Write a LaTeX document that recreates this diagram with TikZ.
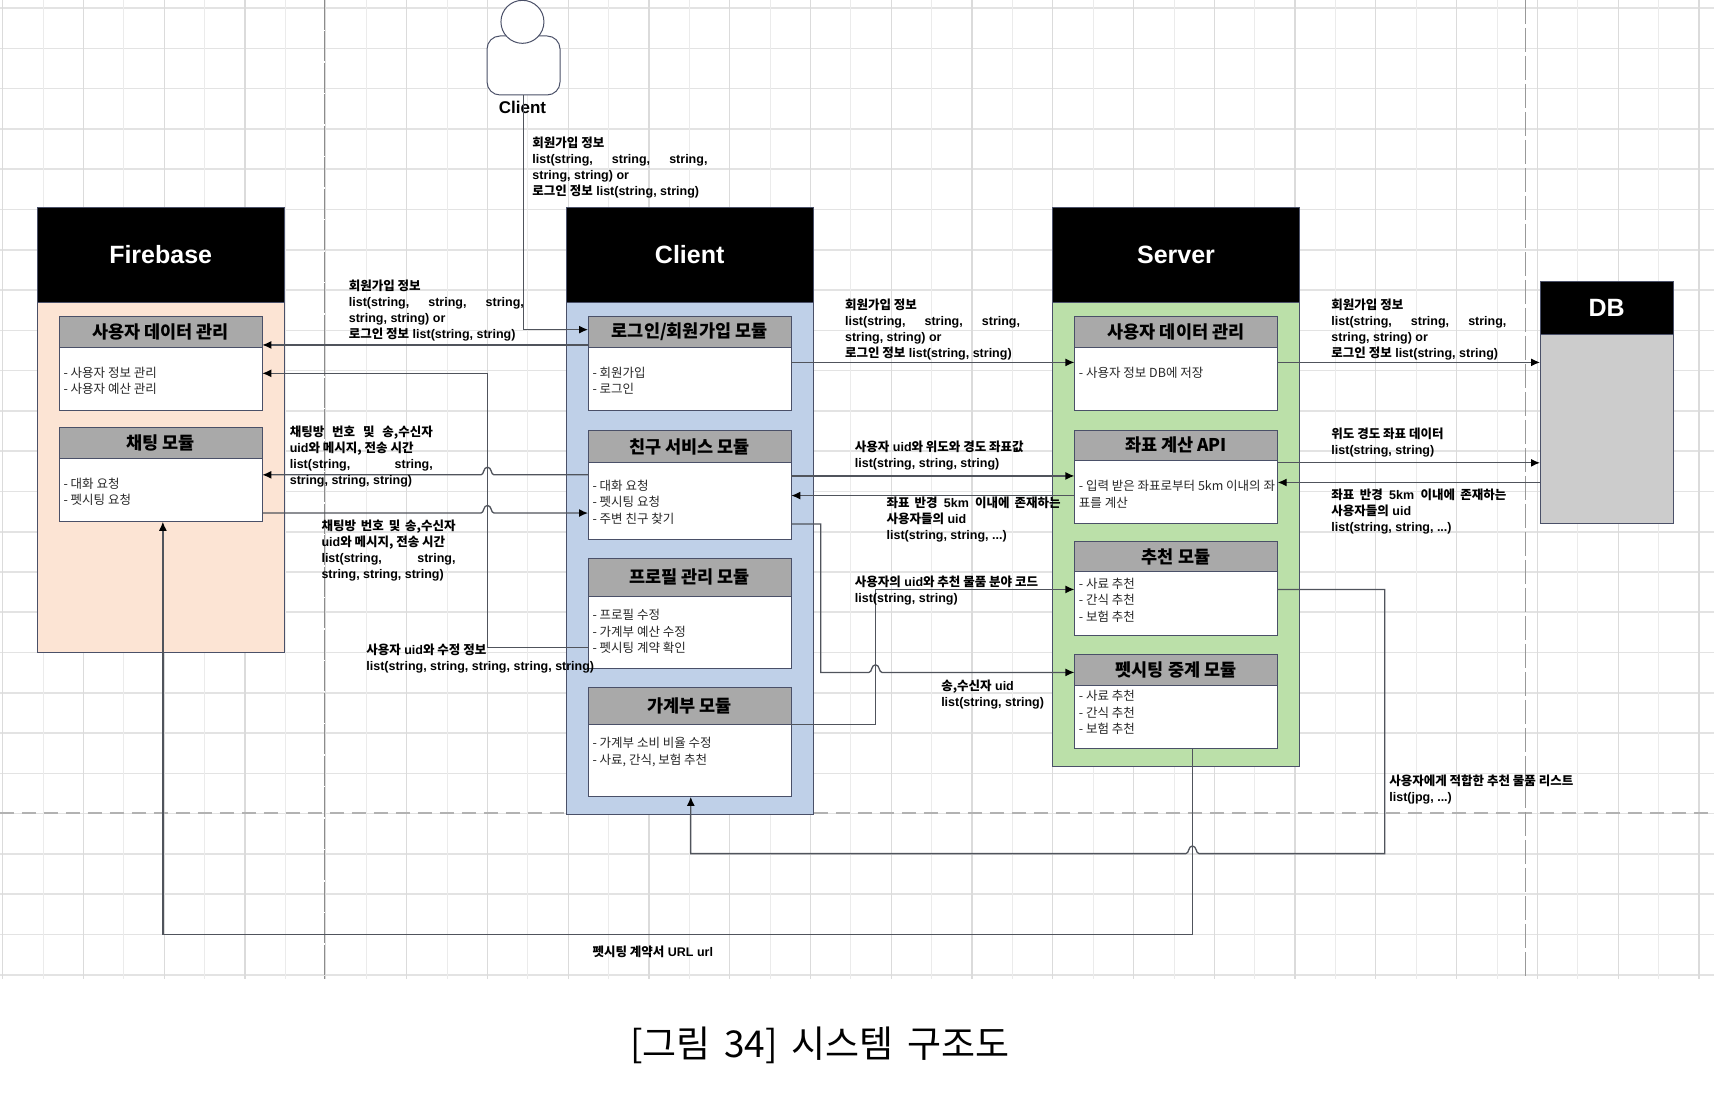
\documentclass[tikz,border=0pt]{standalone}
\usepackage{fontspec}
\setmainfont{Liberation Sans}
\newfontfamily\krfont{Noto Sans CJK KR}
\usetikzlibrary{arrows.meta,calc}
\newcommand\K[1]{{\krfont #1}}
\newcommand\J[2]{\makebox[#1pt][s]{#2}}
\definecolor{edgec}{HTML}{4A5068}
\definecolor{linec}{HTML}{50545C}
\definecolor{titlec}{HTML}{A9A9A9}
\definecolor{peach}{HTML}{FCE4D4}
\definecolor{bluep}{HTML}{BFD0E8}
\definecolor{greenp}{HTML}{BBE0A9}
\definecolor{dbgrey}{HTML}{CCCCCC}
\tikzset{
  pbox/.style={draw=edgec,line width=1pt,inner sep=0pt,outer sep=0pt},
  headbox/.style={pbox,fill=black,text=white,font=\fontsize{25}{28}\selectfont\bfseries},
  titlebox/.style={pbox,fill=titlec,font=\fontsize{17.5}{20}\selectfont\bfseries},
  bodybox/.style={pbox,fill=white},
  bodytxt/.style={anchor=west,align=left,inner sep=0pt,yshift=-0.8pt,text=black!85,font=\fontsize{12.5}{16.5}\selectfont},
  lbl/.style={anchor=north west,align=left,inner sep=0pt,yshift=-1.2pt,text=black,font=\fontsize{12.5}{16}\selectfont\bfseries},
  conn/.style={draw=linec,line width=1.3pt,-{Latex[length=9pt,width=8pt,black]}},
  hopr/.style 2 args={insert path={-- (#1-6,#2) .. controls (#1-3,#2) and (#1-4,#2-7) .. (#1,#2-7) .. controls (#1+4,#2-7) and (#1+3,#2) .. (#1+6,#2)}},
  hopl/.style 2 args={insert path={-- (#1+6,#2) .. controls (#1+3,#2) and (#1+4,#2-7) .. (#1,#2-7) .. controls (#1-4,#2-7) and (#1-3,#2) .. (#1-6,#2)}},
}
% name, x1, y1, x2, y2, style, text
\newcommand\bx[7]{\node[#6,minimum width={(#4-#2)*1.093pt},minimum height={(#5-#3)*1.0916pt}] (#1) at ({(#2+#4)/2},{(#3+#5)/2}) {#7};}
% name, x1, ytop, ymid, ybot, title
\newcommand\md[6]{\bx{#1-b}{#2}{#4}{#2+186}{#5}{bodybox}{}\bx{#1-t}{#2}{#3}{#2+186}{#4}{titlebox}{#6}}
\begin{document}
\begin{tikzpicture}[x=1.093pt,y=-1.0916pt]
\useasboundingbox (0,0) rectangle (1568.2,1004);
\fill[white] (0,0) rectangle (1568.2,1004);
% grid
\foreach \k in {0,...,24} \draw[black!11,line width=1.6pt] (0,{893-36.9*\k}) -- (1568.2,{893-36.9*\k});
\foreach \k in {0,2,...,42} \draw[black!8,line width=0.8pt] ({2.5+36.95*\k+36.95},0) -- ({2.5+36.95*\k+36.95},897);
\foreach \k in {0,2,...,42} \draw[black!14,line width=1.2pt] ({2.5+36.95*\k},0) -- ({2.5+36.95*\k},897);
\draw[black!30,line width=2pt,dash pattern=on 14pt off 8pt] (0,745) -- (1568.2,745);
\draw[black!45,line width=0.8pt,dash pattern=on 30pt off 1.5pt] (297,0) -- (297,897);
\draw[black!40,line width=1pt,dash pattern=on 24pt off 4pt] (1396,0) -- (1396,897);
% panels
\bx{fbp}{34}{277}{260}{598}{pbox,fill=peach}{}
\bx{fbh}{34}{190}{260}{277}{headbox}{Firebase}
\bx{clp}{518}{277}{744}{746}{pbox,fill=bluep}{}
\bx{clh}{518}{190}{744}{277}{headbox}{Client}
\bx{svp}{963}{277}{1189}{702}{pbox,fill=greenp}{}
\bx{svh}{963}{190}{1189}{277}{headbox}{Server}
\bx{dbp}{1409}{306}{1531}{480}{pbox,fill=dbgrey}{}
\bx{dbh}{1409}{258}{1531}{306}{headbox}{DB}
% modules
\md{fu}{54}{290}{318}{376}{\K{사용자 데이터 관리}}
\md{fc}{54}{392}{420}{478}{\K{채팅 모듈}}
\md{lg}{538}{290}{318}{376}{\K{로그인/회원가입 모듈}}
\md{fr}{538}{394}{424}{494}{\K{친구 서비스 모듈}}
\md{pf}{538}{512}{546}{612}{\K{프로필 관리 모듈}}
\md{ld}{538}{630}{664}{730}{\K{가계부 모듈}}
\md{su}{983}{290}{318}{376}{\K{사용자 데이터 관리}}
\md{co}{983}{394}{422}{480}{\K{좌표 계산 API}}
\md{re}{983}{496}{524}{582}{\K{추천 모듈}}
\md{ps}{983}{600}{628}{686}{\K{펫시팅 중계 모듈}}
% module texts
\node[bodytxt] (fu-x) at (58,348) {\K{- 사용자 정보 관리}\\\K{- 사용자 예산 관리}};
\node[bodytxt] (fc-x) at (58,450) {\K{- 대화 요청}\\\K{- 펫시팅 요청}};
\node[bodytxt] (lg-x) at (542,348) {\K{- 회원가입}\\\K{- 로그인}};
\node[bodytxt] (fr-x) at (542,459) {\K{- 대화 요청}\\\K{- 펫시팅 요청}\\\K{- 주변 친구 찾기}};
\node[bodytxt] (pf-x) at (542,578) {\K{- 프로필 수정}\\\K{- 가계부 예산 수정}\\\K{- 펫시팅 계약 확인}};
\node[bodytxt] (ld-x) at (542,688) {\K{- 가계부 소비 비율 수정}\\\K{- 사료, 간식, 보험 추천}};
\node[bodytxt] (su-x) at (987,341) {\K{- 사용자 정보 DB에 저장}};
\node[bodytxt] (co-x) at (987,452) {\K{- 입력 받은 좌표로부터 5km 이내의 좌}\\\K{표를 계산}};
\node[bodytxt] (re-x) at (987,549) {\K{- 사료 추천}\\\K{- 간식 추천}\\\K{- 보험 추천}};
\node[bodytxt] (ps-x) at (987,652) {\K{- 사료 추천}\\\K{- 간식 추천}\\\K{- 보험 추천}};
% actor
\node[draw=edgec,line width=1pt,fill=white,rounded corners=13pt,minimum width=73pt,minimum height=59pt,inner sep=0pt] (actb) at (479,60) {};
\node[draw=edgec,line width=1pt,fill=white,circle,minimum size=43pt,inner sep=0pt] (acth) at (478,20) {};
\node[inner sep=0pt,font=\fontsize{17}{20}\selectfont\bfseries] (actl) at (478,98) {Client};
% connectors
\draw[conn] (actb.south) -- (actb.south |- 0,302) -- (lg-t.west |- 0,302);
\draw[conn] (lg-t.west |- 0,316) -- (fu-t.east |- 0,316);
\draw[conn] (pf-b.west |- 0,593) -| (446,342) -- (fu-b.east |- 0,342);
\draw[conn] (fr-b.west |- 0,435) [hopl={446}{435}] -- (fc-b.east |- 0,435);
\draw[conn] (fc-b.east |- 0,470) [hopr={446}{470}] -- (fr-b.west |- 0,470);
\draw[conn] (ps-b.south -| 1091,0) -- (1091,856) -| (fc-b.south -| 149,0);
\draw[conn] (re-b.east |- 0,540) -| (1267,782) [hopl={1091}{782}] -- (632,782) -- (ld-b.south -| 632,0);
\draw[conn] (lg-b.east |- 0,332) -- (su-b.west |- 0,332);
\draw[conn] (fr-b.east |- 0,436) -- (co-b.west |- 0,436);
\draw[conn] (co-b.west |- 0,454) -- (fr-b.east |- 0,454);
\draw[conn] (fr-b.east |- 0,480) -| (751,616) [hopr={801}{616}] -- (ps-t.west |- 0,616);
\draw[conn] (ld-t.east |- 0,664) -| (801,540) -- (re-b.west |- 0,540);
\draw[conn] (su-b.east |- 0,332) -- (dbp.west |- 0,332);
\draw[conn] (co-b.east |- 0,424) -- (dbp.west |- 0,424);
\draw[conn] (dbp.west |- 0,442) -- (co-b.east |- 0,442);
% labels
\newcommand\signup[1]{\K{회원가입 정보}\\\J{#1}{list(string, string, string,}\\string, string) or\\\K{로그인 정보} list(string, string)}
\node[lbl] (l1) at (487,124) {\signup{175}};
\node[lbl] (l2) at (319,255) {\signup{175}};
\node[lbl] (l3) at (773,273) {\signup{175}};
\node[lbl] (l4) at (1218,273) {\signup{175}};
\node[lbl] (l5) at (265,389) {\J{143}{\K{채팅방 번호 및 송,수신자}}\\uid\K{와 메시지, 전송 시간}\\\J{143}{list(string, string,}\\string, string, string)};
\node[lbl] (l6) at (294,475) {\J{134}{\K{채팅방 번호 및 송,수신자}}\\uid\K{와 메시지, 전송 시간}\\\J{134}{list(string, string,}\\string, string, string)};
\node[lbl] (l7) at (335,589) {\K{사용자} uid\K{와 수정 정보}\\list(string, string, string, string, string)};
\node[lbl] (l8) at (782,403) {\K{사용자} uid\K{와 위도와 경도 좌표값}\\list(string, string, string)};
\node[lbl] (l9) at (811,454) {\J{174}{\K{좌표 반경} 5km \K{이내에 존재하는}}\\\K{사용자들의} uid\\list(string, string, ...)};
\node[lbl] (l10) at (782,526) {\K{사용자의} uid\K{와 추천 물품 분야 코드}\\list(string, string)};
\node[lbl] (l11) at (861,622) {\K{송,수신자} uid\\list(string, string)};
\node[lbl] (l12) at (1218,391) {\K{위도 경도 좌표 데이터}\\list(string, string)};
\node[lbl] (l13) at (1218,447) {\J{175}{\K{좌표 반경} 5km \K{이내에 존재하는}}\\\K{사용자들의} uid\\list(string, string, ...)};
\node[lbl] (l14) at (1271,709) {\K{사용자에게 적합한 추천 물품 리스트}\\list(jpg, ...)};
\node[lbl] (l15) at (542,865) {\K{펫시팅 계약서} URL url};
% caption
\node[inner sep=0pt,font=\fontsize{37}{40}\selectfont] (cap) at (750,958) {\J{379}{\K{[그림 34] 시스템 구조도}}};
\end{tikzpicture}
\end{document}
